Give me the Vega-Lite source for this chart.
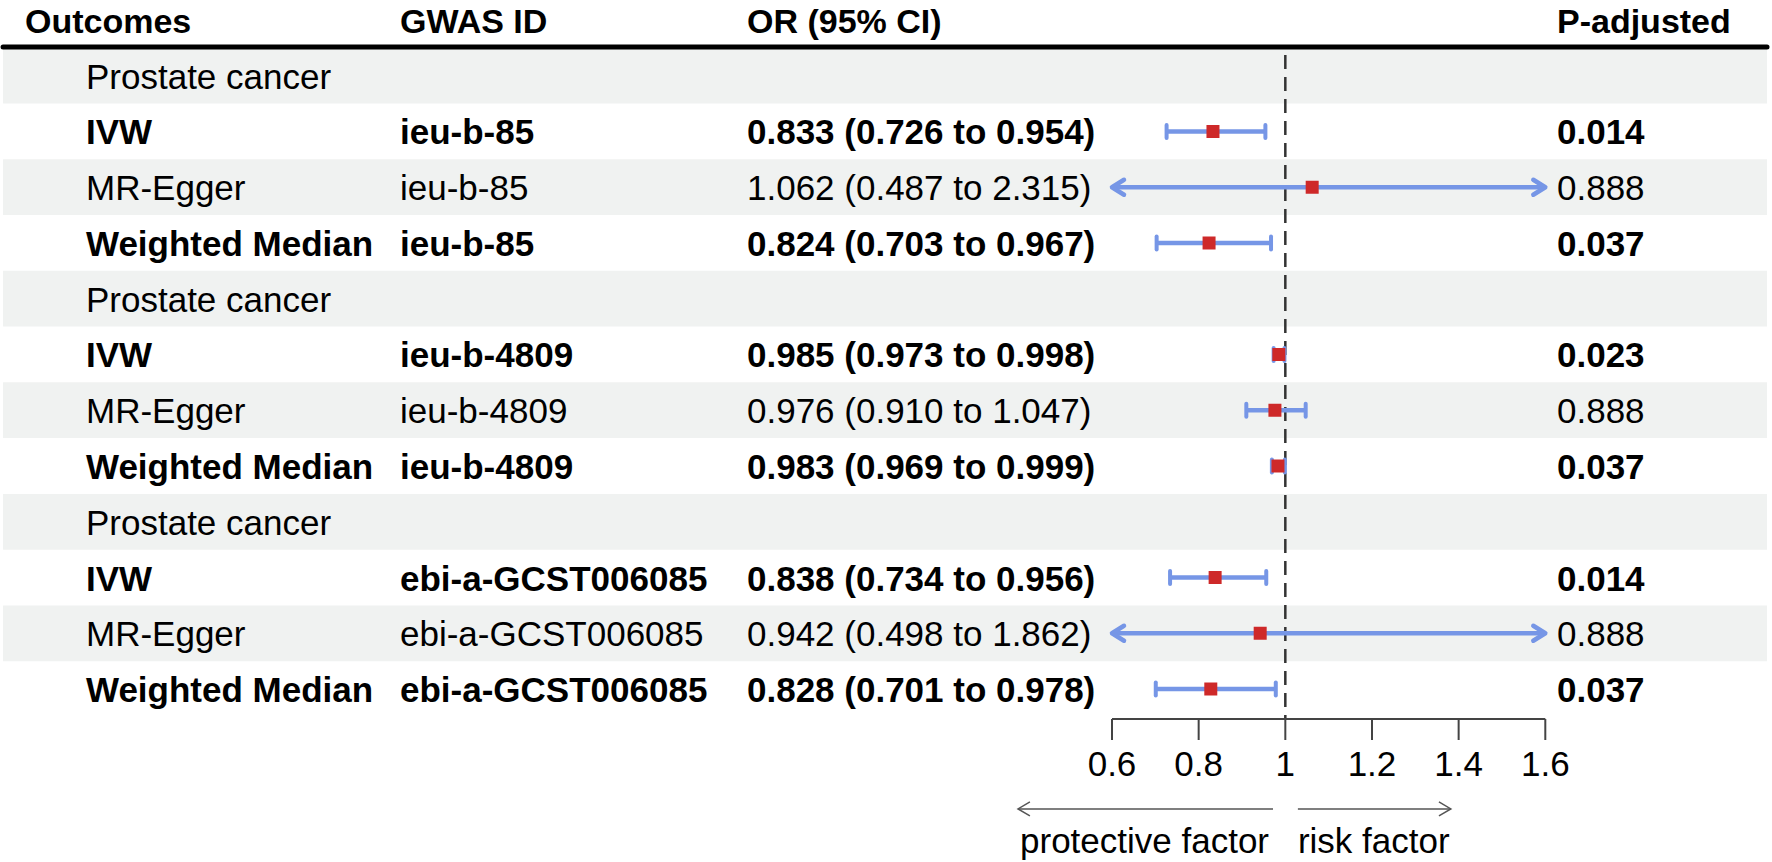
{
  "$schema": "https://vega.github.io/schema/vega-lite/v6.json",
  "width": 1772,
  "height": 862,
  "autosize": {"type": "fit", "contains": "padding"},
  "padding": 0,
  "background": "white",
  "config": {
    "view": {"stroke": null},
    "axis": {"disable": true},
    "text": {"font": "Liberation Sans", "fontSize": 35, "color": "black"}
  },
  "datasets": {
    "rows": [
      {"row": 1, "outcome": "Prostate cancer"},
      {"row": 2, "outcome": "IVW", "gwas": "ieu-b-85", "ortext": "0.833 (0.726 to 0.954)", "est": 0.833, "lo": 0.726, "hi": 0.954, "p": 0.014, "ptxt": "0.014"},
      {"row": 3, "outcome": "MR-Egger", "gwas": "ieu-b-85", "ortext": "1.062 (0.487 to 2.315)", "est": 1.062, "lo": 0.487, "hi": 2.315, "p": 0.888, "ptxt": "0.888"},
      {"row": 4, "outcome": "Weighted Median", "gwas": "ieu-b-85", "ortext": "0.824 (0.703 to 0.967)", "est": 0.824, "lo": 0.703, "hi": 0.967, "p": 0.037, "ptxt": "0.037"},
      {"row": 5, "outcome": "Prostate cancer"},
      {"row": 6, "outcome": "IVW", "gwas": "ieu-b-4809", "ortext": "0.985 (0.973 to 0.998)", "est": 0.985, "lo": 0.973, "hi": 0.998, "p": 0.023, "ptxt": "0.023"},
      {"row": 7, "outcome": "MR-Egger", "gwas": "ieu-b-4809", "ortext": "0.976 (0.910 to 1.047)", "est": 0.976, "lo": 0.910, "hi": 1.047, "p": 0.888, "ptxt": "0.888"},
      {"row": 8, "outcome": "Weighted Median", "gwas": "ieu-b-4809", "ortext": "0.983 (0.969 to 0.999)", "est": 0.983, "lo": 0.969, "hi": 0.999, "p": 0.037, "ptxt": "0.037"},
      {"row": 9, "outcome": "Prostate cancer"},
      {"row": 10, "outcome": "IVW", "gwas": "ebi-a-GCST006085", "ortext": "0.838 (0.734 to 0.956)", "est": 0.838, "lo": 0.734, "hi": 0.956, "p": 0.014, "ptxt": "0.014"},
      {"row": 11, "outcome": "MR-Egger", "gwas": "ebi-a-GCST006085", "ortext": "0.942 (0.498 to 1.862)", "est": 0.942, "lo": 0.498, "hi": 1.862, "p": 0.888, "ptxt": "0.888"},
      {"row": 12, "outcome": "Weighted Median", "gwas": "ebi-a-GCST006085", "ortext": "0.828 (0.701 to 0.978)", "est": 0.828, "lo": 0.701, "hi": 0.978, "p": 0.037, "ptxt": "0.037"}
    ],
    "header": [{"c1": "Outcomes", "c2": "GWAS ID", "c3": "OR (95% CI)", "c4": "P-adjusted"}],
    "ticks": [{"v": 0.6}, {"v": 0.8}, {"v": 1}, {"v": 1.2}, {"v": 1.4}, {"v": 1.6}],
    "dir": [{"left": "protective factor", "right": "risk factor"}]
  },
  "data": {"name": "rows"},
  "layer": [
    {
      "transform": [{"filter": "datum.row % 2 == 1"}],
      "mark": {"type": "rect", "height": 55.75, "color": "#F0F2F1"},
      "encoding": {
        "x": {"datum": -1.9593, "type": "quantitative", "scale": {"domain": [-1.96635, 2.12319], "nice": false, "zero": false}},
        "x2": {"datum": 2.1117},
        "y": {"field": "row", "type": "quantitative", "scale": {"domain": [-0.3587, 15.1031], "nice": false, "zero": false, "reverse": true}}
      }
    },
    {
      "data": {"name": "header"},
      "mark": {"type": "rule", "color": "black", "strokeWidth": 5, "strokeCap": "round"},
      "encoding": {
        "x": {"datum": -1.9593, "type": "quantitative"},
        "x2": {"datum": 2.1117},
        "y": {"datum": 0.4843, "type": "quantitative"}
      }
    },
    {
      "data": {"name": "header"},
      "mark": {"type": "rule", "color": "#333333", "strokeWidth": 2.5, "strokeDash": [14, 8]},
      "encoding": {
        "x": {"datum": 1, "type": "quantitative"},
        "y": {"datum": 0.628, "type": "quantitative"},
        "y2": {"datum": 12.538}
      }
    },
    {
      "transform": [{"filter": "isValid(datum.est) && datum.lo >= 0.6 && datum.hi <= 1.6"}],
      "mark": {"type": "rule", "color": "#7696E6", "strokeWidth": 4.5},
      "encoding": {
        "x": {"field": "lo", "type": "quantitative"},
        "x2": {"field": "hi"},
        "y": {"field": "row", "type": "quantitative"}
      }
    },
    {
      "transform": [{"filter": "isValid(datum.est) && datum.lo >= 0.6 && datum.hi <= 1.6"}],
      "mark": {"type": "point", "shape": "M 0 -1 L 0 1", "size": 169, "filled": false, "color": "#7696E6", "opacity": 1, "strokeWidth": 4, "strokeCap": "round"},
      "encoding": {
        "x": {"field": "lo", "type": "quantitative"},
        "y": {"field": "row", "type": "quantitative"}
      }
    },
    {
      "transform": [{"filter": "isValid(datum.est) && datum.lo >= 0.6 && datum.hi <= 1.6"}],
      "mark": {"type": "point", "shape": "M 0 -1 L 0 1", "size": 169, "filled": false, "color": "#7696E6", "opacity": 1, "strokeWidth": 4, "strokeCap": "round"},
      "encoding": {
        "x": {"field": "hi", "type": "quantitative"},
        "y": {"field": "row", "type": "quantitative"}
      }
    },
    {
      "transform": [{"filter": "isValid(datum.est) && (datum.lo < 0.6 || datum.hi > 1.6)"}],
      "mark": {"type": "rule", "color": "#7696E6", "strokeWidth": 4.5},
      "encoding": {
        "x": {"datum": 0.603, "type": "quantitative"},
        "x2": {"datum": 1.597},
        "y": {"field": "row", "type": "quantitative"}
      }
    },
    {
      "transform": [{"filter": "isValid(datum.est) && datum.lo < 0.6"}],
      "mark": {"type": "point", "shape": "M 1.6 -1 L 0 0 L 1.6 1", "size": 225, "filled": false, "color": "#7696E6", "opacity": 1, "strokeWidth": 4.5, "strokeCap": "round", "strokeJoin": "round"},
      "encoding": {
        "x": {"datum": 0.6, "type": "quantitative"},
        "y": {"field": "row", "type": "quantitative"}
      }
    },
    {
      "transform": [{"filter": "isValid(datum.est) && datum.hi > 1.6"}],
      "mark": {"type": "point", "shape": "M -1.6 -1 L 0 0 L -1.6 1", "size": 225, "filled": false, "color": "#7696E6", "opacity": 1, "strokeWidth": 4.5, "strokeCap": "round", "strokeJoin": "round"},
      "encoding": {
        "x": {"datum": 1.6, "type": "quantitative"},
        "y": {"field": "row", "type": "quantitative"}
      }
    },
    {
      "transform": [{"filter": "isValid(datum.est)"}],
      "mark": {"type": "point", "shape": "square", "size": 169, "filled": true, "color": "#CE2929", "opacity": 1, "strokeWidth": 0},
      "encoding": {
        "x": {"field": "est", "type": "quantitative"},
        "y": {"field": "row", "type": "quantitative"}
      }
    },
    {
      "transform": [{"filter": "!(isValid(datum.p) && datum.p < 0.05)"}],
      "mark": {"type": "text", "align": "left", "baseline": "middle", "dy": 2},
      "encoding": {
        "x": {"datum": -1.7679, "type": "quantitative"},
        "y": {"field": "row", "type": "quantitative"},
        "text": {"field": "outcome"}
      }
    },
    {
      "transform": [{"filter": "isValid(datum.p) && datum.p < 0.05"}],
      "mark": {"type": "text", "align": "left", "baseline": "middle", "dy": 2, "fontWeight": "bold"},
      "encoding": {
        "x": {"datum": -1.7679, "type": "quantitative"},
        "y": {"field": "row", "type": "quantitative"},
        "text": {"field": "outcome"}
      }
    },
    {
      "transform": [{"filter": "isValid(datum.p) && datum.p >= 0.05"}],
      "mark": {"type": "text", "align": "left", "baseline": "middle", "dy": 2},
      "encoding": {
        "x": {"datum": -1.0432, "type": "quantitative"},
        "y": {"field": "row", "type": "quantitative"},
        "text": {"field": "gwas"}
      }
    },
    {
      "transform": [{"filter": "isValid(datum.p) && datum.p < 0.05"}],
      "mark": {"type": "text", "align": "left", "baseline": "middle", "dy": 2, "fontWeight": "bold"},
      "encoding": {
        "x": {"datum": -1.0432, "type": "quantitative"},
        "y": {"field": "row", "type": "quantitative"},
        "text": {"field": "gwas"}
      }
    },
    {
      "transform": [{"filter": "isValid(datum.p) && datum.p >= 0.05"}],
      "mark": {"type": "text", "align": "left", "baseline": "middle", "dy": 2},
      "encoding": {
        "x": {"datum": -0.2424, "type": "quantitative"},
        "y": {"field": "row", "type": "quantitative"},
        "text": {"field": "ortext"}
      }
    },
    {
      "transform": [{"filter": "isValid(datum.p) && datum.p < 0.05"}],
      "mark": {"type": "text", "align": "left", "baseline": "middle", "dy": 2, "fontWeight": "bold"},
      "encoding": {
        "x": {"datum": -0.2424, "type": "quantitative"},
        "y": {"field": "row", "type": "quantitative"},
        "text": {"field": "ortext"}
      }
    },
    {
      "transform": [{"filter": "isValid(datum.p) && datum.p >= 0.05"}],
      "mark": {"type": "text", "align": "left", "baseline": "middle", "dy": 2},
      "encoding": {
        "x": {"datum": 1.627, "type": "quantitative"},
        "y": {"field": "row", "type": "quantitative"},
        "text": {"field": "ptxt"}
      }
    },
    {
      "transform": [{"filter": "isValid(datum.p) && datum.p < 0.05"}],
      "mark": {"type": "text", "align": "left", "baseline": "middle", "dy": 2, "fontWeight": "bold"},
      "encoding": {
        "x": {"datum": 1.627, "type": "quantitative"},
        "y": {"field": "row", "type": "quantitative"},
        "text": {"field": "ptxt"}
      }
    },
    {
      "data": {"name": "header"},
      "mark": {"type": "text", "align": "left", "baseline": "alphabetic", "fontSize": 34, "fontWeight": "bold"},
      "encoding": {
        "x": {"datum": -1.9087, "type": "quantitative"},
        "y": {"datum": 0.233, "type": "quantitative"},
        "text": {"field": "c1"}
      }
    },
    {
      "data": {"name": "header"},
      "mark": {"type": "text", "align": "left", "baseline": "alphabetic", "fontSize": 34, "fontWeight": "bold"},
      "encoding": {
        "x": {"datum": -1.0432, "type": "quantitative"},
        "y": {"datum": 0.233, "type": "quantitative"},
        "text": {"field": "c2"}
      }
    },
    {
      "data": {"name": "header"},
      "mark": {"type": "text", "align": "left", "baseline": "alphabetic", "fontSize": 34, "fontWeight": "bold"},
      "encoding": {
        "x": {"datum": -0.2424, "type": "quantitative"},
        "y": {"datum": 0.233, "type": "quantitative"},
        "text": {"field": "c3"}
      }
    },
    {
      "data": {"name": "header"},
      "mark": {"type": "text", "align": "left", "baseline": "alphabetic", "fontSize": 34, "fontWeight": "bold"},
      "encoding": {
        "x": {"datum": 1.627, "type": "quantitative"},
        "y": {"datum": 0.233, "type": "quantitative"},
        "text": {"field": "c4"}
      }
    },
    {
      "data": {"name": "header"},
      "mark": {"type": "rule", "color": "#444444", "strokeWidth": 2},
      "encoding": {
        "x": {"datum": 0.6, "type": "quantitative"},
        "x2": {"datum": 1.6},
        "y": {"datum": 12.538, "type": "quantitative"}
      }
    },
    {
      "data": {"name": "ticks"},
      "mark": {"type": "rule", "color": "#444444", "strokeWidth": 2},
      "encoding": {
        "x": {"field": "v", "type": "quantitative"},
        "y": {"datum": 12.538, "type": "quantitative"},
        "y2": {"datum": 12.915}
      }
    },
    {
      "data": {"name": "ticks"},
      "mark": {"type": "text", "align": "center", "baseline": "middle", "dy": 2},
      "encoding": {
        "x": {"field": "v", "type": "quantitative"},
        "y": {"datum": 13.327, "type": "quantitative"},
        "text": {"field": "v", "type": "quantitative", "format": "~g"}
      }
    },
    {
      "data": {"name": "dir"},
      "mark": {"type": "rule", "color": "#555555", "strokeWidth": 1.5},
      "encoding": {
        "x": {"datum": 0.3831, "type": "quantitative"},
        "x2": {"datum": 0.9716},
        "y": {"datum": 14.152, "type": "quantitative"}
      }
    },
    {
      "data": {"name": "dir"},
      "mark": {"type": "rule", "color": "#555555", "strokeWidth": 1.5},
      "encoding": {
        "x": {"datum": 1.029, "type": "quantitative"},
        "x2": {"datum": 1.382},
        "y": {"datum": 14.152, "type": "quantitative"}
      }
    },
    {
      "data": {"name": "dir"},
      "mark": {"type": "point", "shape": "M 1.7 -1 L 0 0 L 1.7 1", "size": 196, "filled": false, "color": "#555555", "opacity": 1, "strokeWidth": 1.5},
      "encoding": {
        "x": {"datum": 0.3831, "type": "quantitative"},
        "y": {"datum": 14.152, "type": "quantitative"}
      }
    },
    {
      "data": {"name": "dir"},
      "mark": {"type": "point", "shape": "M -1.7 -1 L 0 0 L -1.7 1", "size": 196, "filled": false, "color": "#555555", "opacity": 1, "strokeWidth": 1.5},
      "encoding": {
        "x": {"datum": 1.382, "type": "quantitative"},
        "y": {"datum": 14.152, "type": "quantitative"}
      }
    },
    {
      "data": {"name": "dir"},
      "mark": {"type": "text", "align": "left", "baseline": "middle", "dy": 2},
      "encoding": {
        "x": {"datum": 0.3877, "type": "quantitative"},
        "y": {"datum": 14.709, "type": "quantitative"},
        "text": {"field": "left"}
      }
    },
    {
      "data": {"name": "dir"},
      "mark": {"type": "text", "align": "left", "baseline": "middle", "dy": 2},
      "encoding": {
        "x": {"datum": 1.029, "type": "quantitative"},
        "y": {"datum": 14.709, "type": "quantitative"},
        "text": {"field": "right"}
      }
    }
  ]
}
